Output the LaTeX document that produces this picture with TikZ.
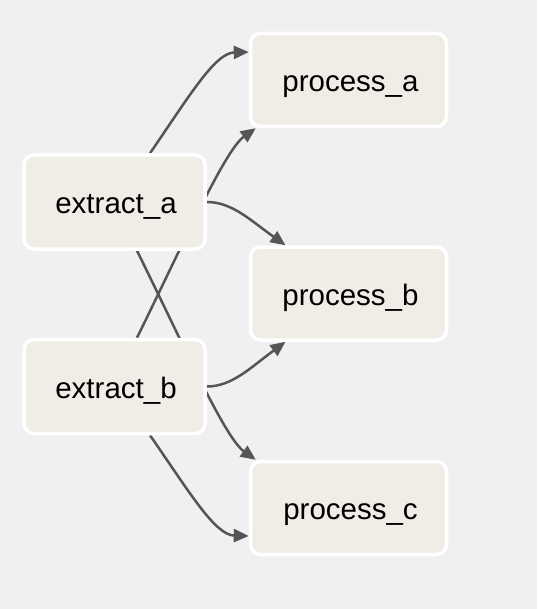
\documentclass[tikz,border=0pt]{standalone}
\usepackage{fontspec}
\setmainfont{Liberation Sans}
\usetikzlibrary{arrows.meta}
\pgfdeclarelayer{bg}
\pgfdeclarelayer{edges}
\pgfsetlayers{bg,edges,main}
\definecolor{pagebg}{HTML}{F0F0F0}
\definecolor{nodefill}{HTML}{F0EDE7}
\definecolor{edgecol}{HTML}{555555}
\tikzset{
  task/.style={draw=white, line width=3.5pt, fill=nodefill, rounded corners=10pt,
    font=\fontsize{29.5}{34}\selectfont, text=black, inner sep=0pt,
    text height=23.5pt, text depth=0pt},
  extractbox/.style={task, minimum width=181pt, minimum height=94pt},
  processbox/.style={task, minimum width=196pt, minimum height=93pt},
  flow/.style={draw=edgecol, line width=2.5pt, -{Triangle[length=15pt,width=13pt]}}
}
\begin{document}
\begin{tikzpicture}[x=1pt,y=-1pt]
\begin{pgfonlayer}{bg}
\fill[pagebg] (0,0) rectangle (537,609);
\end{pgfonlayer}
\useasboundingbox (0,0) rectangle (537,609);
\node[extractbox] (ea) at (114.5,202) {\hspace{3pt}extract\_a};
\node[extractbox] (eb) at (114.5,386.5) {\hspace{3pt}extract\_b};
\node[processbox] (pa) at (348.5,80) {\hspace{4pt}process\_a};
\node[processbox] (pb) at (348.5,293.5) {\hspace{4pt}process\_b};
\node[processbox] (pc) at (348.5,508) {\hspace{4pt}process\_c};
\begin{pgfonlayer}{edges}
\draw[flow] ([xshift=35.5pt]ea.north) .. controls (190,95) and (215,53) .. ([yshift=28pt]pa.west);
\draw[flow] ([xshift=22.5pt]eb.north) .. controls (185,240) and (225,150) .. ([xshift=7pt]pa.south west);
\draw[flow] (ea.east) .. controls (232,202) and (250,220) .. ([xshift=-63pt]pb.north);
\draw[flow] (eb.east) .. controls (232,386.5) and (250,368) .. ([xshift=-63pt]pb.south);
\draw[flow] ([xshift=22.5pt]ea.south) .. controls (185,348) and (225,438) .. ([xshift=7pt]pc.north west);
\draw[flow] ([xshift=35.5pt]eb.south) .. controls (190,493) and (215,535) .. ([yshift=-28pt]pc.west);
\end{pgfonlayer}
\end{tikzpicture}
\end{document}
